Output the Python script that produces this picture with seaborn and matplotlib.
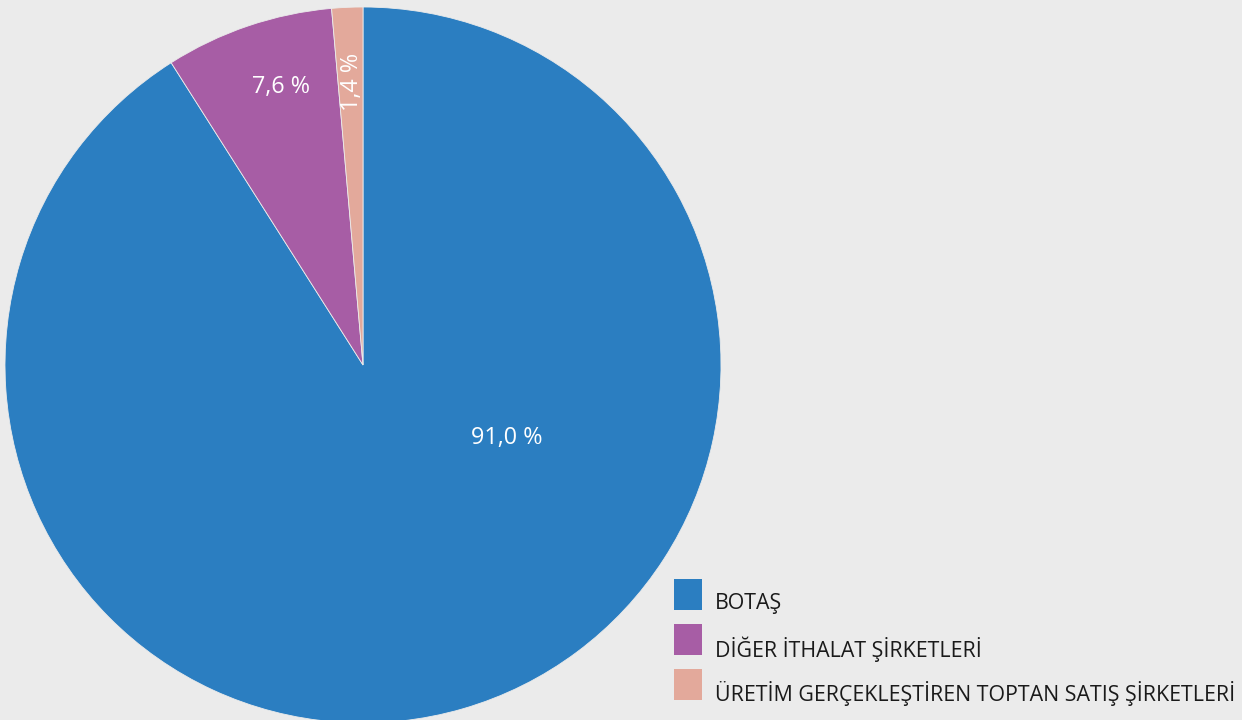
import numpy as np
import matplotlib
matplotlib.use("Agg")
import matplotlib.pyplot as plt
import seaborn as sns

categories = ["BOTAŞ", "DİĞER İTHALAT ŞİRKETLERİ", "ÜRETİM GERÇEKLEŞTİREN TOPTAN SATIŞ ŞİRKETLERİ"]
shares = [91.0, 7.6, 1.4]
colors = ["#2B7EC1", "#A75DA5", "#E3A99B"]
pct_labels = ["91,0 %", "7,6 %", "1,4 %"]

BG = "#EBEBEB"
sns.set_style("white")
plt.rcParams["font.family"] = ["Open Sans", "DejaVu Sans"]

W, H = 1242, 720
fig = plt.figure(figsize=(W / 100, H / 100), dpi=100, facecolor=BG)
ax = fig.add_axes([0, 0, 1, 1])
ax.set_facecolor(BG)

cx, cy, r = 363, H - 365, 358
wedges, _ = ax.pie(shares, colors=colors, startangle=90, counterclock=False,
                   center=(cx, cy), radius=r, frame=True,
                   wedgeprops=dict(linewidth=0.6, edgecolor=BG))
ax.set_xlim(0, W)
ax.set_ylim(0, H)
ax.set_aspect("equal")
ax.axis("off")

# label placement: (angle offset from wedge middle in degrees, radial fraction, rotation)
placements = [(46.8, 0.45, 0), (-2.3, 0.81, 0), (-0.2, 0.79, 90)]
for w, lab, (dang, frac, rot) in zip(wedges, pct_labels, placements):
    mid = np.deg2rad((w.theta1 + w.theta2) / 2 + dang)
    ax.text(cx + frac * r * np.cos(mid), cy + frac * r * np.sin(mid), lab,
            color="white", fontsize=16.8, ha="center", va="center", rotation=rot)

# legend drawn as swatches with labels beside them
for i, (cat, col) in enumerate(zip(categories, colors)):
    top = H - 579 - 45 * i
    ax.add_patch(plt.Rectangle((674, top - 31), 28, 31, color=col, lw=0))
    ax.text(715, top - 25, cat, fontsize=15.4, color="#1a1a1a", ha="left", va="center")

fig.savefig("out.png", dpi=100, facecolor=BG)
